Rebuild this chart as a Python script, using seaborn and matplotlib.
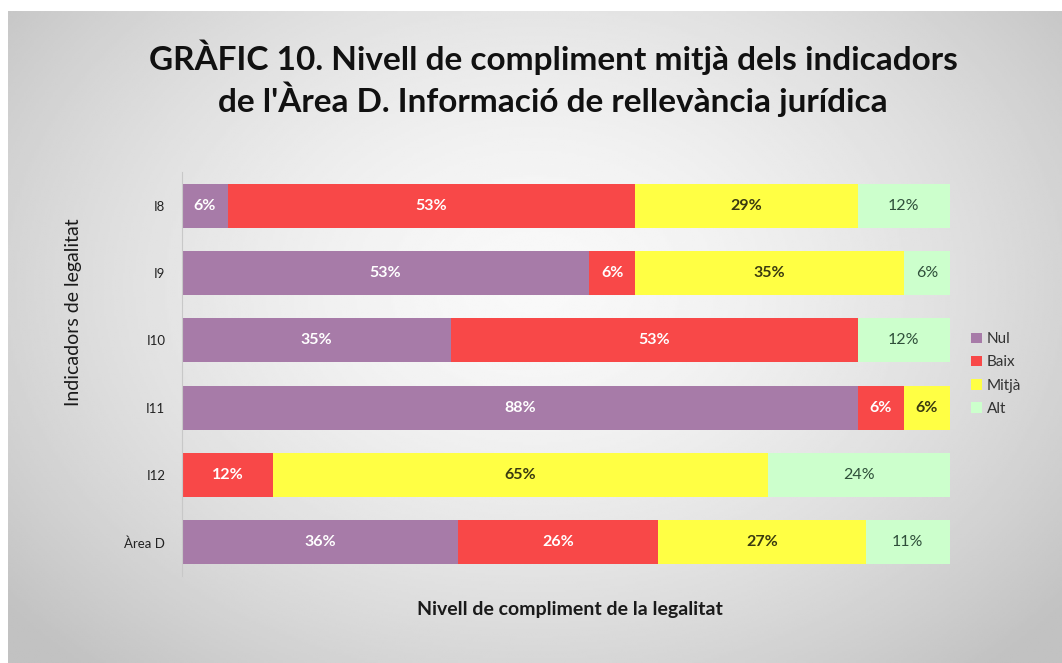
import numpy as np
import pandas as pd
import matplotlib.pyplot as plt
import seaborn as sns

# --- dades ---
indicadors = ["I8", "I9", "I10", "I11", "I12", "Àrea D"]
nivells = ["Nul", "Baix", "Mitjà", "Alt"]
nul = [6, 53, 35, 88, 0, 36]
baix = [53, 6, 53, 6, 12, 26]
mitja = [29, 35, 0, 6, 65, 27]
alt = [12, 6, 12, 0, 24, 11]

colors = {"Nul": "#A77BA8", "Baix": "#F84848", "Mitjà": "#FFFF44", "Alt": "#CCFFCC"}
label_style = {
    "Nul": dict(color="white", fontweight="bold"),
    "Baix": dict(color="white", fontweight="bold"),
    "Mitjà": dict(color="#3A3A10", fontweight="bold"),
    "Alt": dict(color="#2F4F3A", fontweight="normal"),
}

df = pd.DataFrame({"Nul": nul, "Baix": baix, "Mitjà": mitja, "Alt": alt}, index=indicadors)
# 100% apilat, com a Excel
pct = df.div(df.sum(axis=1), axis=0) * 100
cum = pct.cumsum(axis=1)

sns.set_style("white")
plt.rcParams["font.family"] = ["Lato", "DejaVu Sans"]

fig = plt.figure(figsize=(10.62, 6.63), dpi=100)
fig.patch.set_facecolor("white")

# fons amb degradat radial
bg = fig.add_axes([8 / 1062, 0, 1 - 8 / 1062, 1 - 11 / 663], zorder=-10)
yy, xx = np.mgrid[0:1:300j, 0:1:500j]
r = np.sqrt(((xx - 0.5) / 0.62) ** 2 + ((yy - 0.42) / 0.75) ** 2)
shade = np.clip(0.975 - 0.2 * r ** 1.6, 0.76, 1)
bg.imshow(shade, cmap="gray", vmin=0, vmax=1, aspect="auto", extent=[0, 1, 1, 0])
bg.axis("off")

ax = fig.add_axes([182 / 1062, 1 - 576 / 663, 768 / 1062, 404 / 663])
ax.patch.set_alpha(0)

long_df = cum.reset_index().rename(columns={"index": "Indicador"})
for niv in reversed(nivells):
    sns.barplot(data=long_df, x=niv, y="Indicador", orient="y", color=colors[niv],
                width=0.65, ax=ax, label=niv, saturation=1, linewidth=0)

# etiquetes de percentatge
for i, ind in enumerate(indicadors):
    left = 0
    for niv in nivells:
        v = pct.loc[ind, niv]
        if df.loc[ind, niv] > 0:
            ax.text(left + v / 2, i, f"{df.loc[ind, niv]}%", ha="center", va="center",
                    fontsize=11.5, **label_style[niv])
        left += v

ax.set_xlim(0, 100)
ax.set_ylim(5.5, -0.5)
ax.set_xticks([])
ax.tick_params(axis="y", length=0, labelsize=9.5, pad=12, labelcolor="#222222")
for s in ["top", "right", "bottom"]:
    ax.spines[s].set_visible(False)
ax.spines["left"].set_color("#c8c8c8")
ax.set_xlabel("")
ax.set_ylabel("")

fig.text(570 / 1062, 1 - 610 / 663, "Nivell de compliment de la legalitat", ha="center",
         va="center", fontsize=14, fontweight="bold", color="#1a1a1a")
fig.text(73 / 1062, 1 - 312 / 663, "Indicadors de legalitat", ha="center", va="center",
         rotation=90, fontsize=14, color="#1a1a1a")
fig.text(553 / 1062, 1 - 78 / 663,
         "GRÀFIC 10. Nivell de compliment mitjà dels indicadors\nde l'Àrea D. Informació de rellevància jurídica",
         ha="center", va="center", fontsize=24, fontweight="bold", linespacing=1.2, color="#111111")

handles, labels = ax.get_legend_handles_labels()
order = [labels.index(n) for n in nivells]
leg = ax.legend([handles[k] for k in order], [labels[k] for k in order],
                loc="center left", bbox_to_anchor=(1.01, 0.5), frameon=False,
                fontsize=11, handlelength=0.7, handleheight=0.7, handletextpad=0.3,
                labelspacing=0.6, labelcolor="#333333")

fig.savefig("out.png", dpi=100)
